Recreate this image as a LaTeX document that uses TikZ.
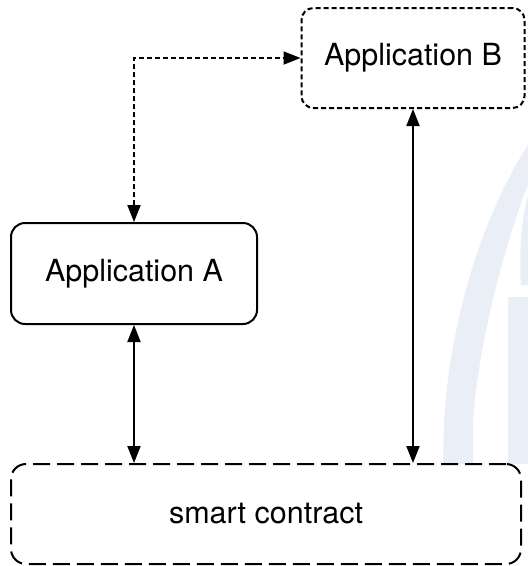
\documentclass[tikz,border=0pt]{standalone}
\usepackage{fontspec}
\setmainfont{TeX Gyre Heros}
\usetikzlibrary{arrows.meta}
\definecolor{wmblue}{RGB}{233,238,247}
\tikzset{
  box/.style={draw=black, fill=white, line width=2pt, rounded corners=14pt,
    inner sep=0pt, font=\fontsize{30.5}{36}\selectfont},
  dotbox/.style={box, dash pattern=on 5pt off 3pt, rounded corners=12pt},
  dashbox/.style={box, dash pattern=on 17pt off 7pt, rounded corners=15pt},
  link/.style={line width=2pt, {Triangle[length=17pt,width=13pt]}-{Triangle[length=17pt,width=13pt]}},
  dotlink/.style={link, line width=1.8pt, dash pattern=on 5pt off 3pt}
}
\begin{document}
\begin{tikzpicture}[x=1pt,y=-1pt]
  \useasboundingbox (0,0) rectangle (528,566);
  % faint logo in the background
  \fill[wmblue] (443,464) -- (444,420) .. controls (452,300) and (492,200) .. (528,145)
    -- (528,185) .. controls (510,230) and (480,330) .. (473,420) -- (473,464) -- cycle;
  \fill[wmblue] (508,297) rectangle (528,464);
  \fill[wmblue] (528,195) .. controls (521,220) and (519,255) .. (521,285) -- (528,285) -- cycle;

  % boxes
  \node[box, minimum width=246pt, minimum height=101pt] (A) at (134,273.5) {Application A};
  \node[dotbox, minimum width=223pt, minimum height=100pt] (B) at (413,58) {Application B};
  \node[dashbox, minimum width=510pt, minimum height=100pt] (C) at (266,514) {smart contract};

  % connectors
  \draw[dotlink] (A.north) |- (B.west);
  \draw[link] (A.south) -- (A.south |- C.north);
  \draw[link] (B.south) -- (B.south |- C.north);
\end{tikzpicture}
\end{document}
